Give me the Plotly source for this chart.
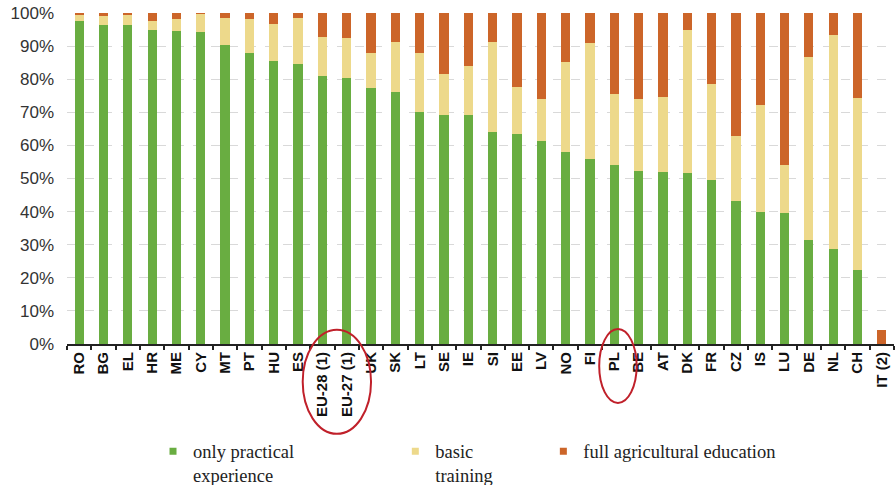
import plotly.graph_objects as go

categories = ["RO", "BG", "EL", "HR", "ME", "CY", "MT", "PT", "HU", "ES",
              "EU-28 (1)", "EU-27 (1)", "UK", "SK", "LT", "SE", "IE", "SI", "EE", "LV",
              "NO", "FI", "PL", "BE", "AT", "DK", "FR", "CZ", "IS", "LU",
              "DE", "NL", "CH", "IT (2)"]

practical = [97.5, 96.5, 96.5, 95.0, 94.5, 94.2, 90.2, 87.8, 85.4, 84.6,
             80.9, 80.5, 77.2, 76.2, 70.2, 69.2, 69.2, 64.1, 63.4, 61.3,
             58.1, 55.9, 54.1, 52.3, 52.0, 51.6, 49.6, 43.3, 39.8, 39.5,
             31.5, 28.8, 22.4, 0.0]

basic = [1.8, 2.5, 3.0, 2.6, 3.8, 5.5, 8.4, 10.5, 11.4, 14.0,
         11.7, 11.8, 10.6, 14.9, 17.6, 12.3, 14.9, 27.2, 14.1, 12.7,
         27.0, 34.9, 21.3, 21.6, 22.6, 43.4, 28.9, 19.5, 32.4, 14.7,
         55.1, 64.7, 51.8, 0.0]

full = [0.7, 1.0, 0.5, 2.4, 1.7, 0.3, 1.4, 1.7, 3.2, 1.4,
        7.4, 7.7, 12.2, 8.9, 12.2, 18.5, 15.9, 8.7, 22.5, 26.0,
        14.9, 9.2, 24.6, 26.1, 25.4, 5.0, 21.5, 37.2, 27.8, 45.8,
        13.4, 6.5, 25.8, 4.3]

y_ticks = [0, 10, 20, 30, 40, 50, 60, 70, 80, 90, 100]
y_tick_labels = ["0%", "10%", "20%", "30%", "40%", "50%", "60%", "70%", "80%", "90%", "100%"]

series_names = ["only practical<br>experience", "basic<br>training", "full agricultural education"]
colors = ["#69ad41", "#edd98b", "#cc6529"]
legend_ids = ["legend", "legend2", "legend3"]

fig = go.Figure()
for vals, color in zip([practical, basic, full], colors):
    fig.add_trace(go.Bar(x=categories, y=vals, marker=dict(color=color, line=dict(width=0)),
                         showlegend=False))

for name, color, lid in zip(series_names, colors, legend_ids):
    fig.add_trace(go.Scatter(x=[None], y=[None], mode="markers", name=name,
                             marker=dict(symbol="square", size=7, color=color),
                             legend=lid, showlegend=True))

legend_common = dict(orientation="v", xanchor="left", yanchor="top",
                     font=dict(family="Liberation Serif", size=18.5, color="#222222"),
                     bgcolor="rgba(0,0,0,0)", valign="top")

fig.update_layout(
    width=895, height=485,
    margin=dict(l=67, r=1, t=13, b=141, autoexpand=False),
    barmode="stack", bargap=0.62,
    plot_bgcolor="white", paper_bgcolor="white",
    font=dict(family="Liberation Sans", color="#222222"),
    legend=dict(x=0.104, y=-0.268, **legend_common),
    legend2=dict(x=0.397, y=-0.268, **legend_common),
    legend3=dict(x=0.576, y=-0.268, **legend_common),
    xaxis=dict(type="category", tickangle=-90, showgrid=False, automargin=False,
               showline=True, linecolor="#222222", linewidth=2,
               ticks="outside", tickson="boundaries", ticklen=4, tickwidth=1.5,
               tickcolor="#222222",
               tickfont=dict(family="Liberation Sans", size=15, color="#111111", weight="bold"),
               range=[-0.5, len(categories) - 0.5]),
    yaxis=dict(range=[0, 100], tickvals=y_ticks, ticktext=y_tick_labels, automargin=False,
               showgrid=True, gridcolor="#d9d9d9", gridwidth=1, griddash="dash",
               zeroline=False, showline=False, ticks="", ticklabelstandoff=12,
               tickfont=dict(family="Liberation Sans", size=17, color="#333333")),
)

fig.add_shape(type="circle", xref="x", yref="paper", x0=9.19, x1=12.0, y0=-0.2715, y1=0.043,
              line=dict(color="#c0202a", width=2), fillcolor="rgba(0,0,0,0)")
fig.add_shape(type="circle", xref="x", yref="paper", x0=21.38, x1=22.92, y0=-0.178, y1=0.045,
              line=dict(color="#c0202a", width=2), fillcolor="rgba(0,0,0,0)")

fig.write_html("out.html", config={"displayModeBar": False},
               post_script="document.body.style.margin='0';")
